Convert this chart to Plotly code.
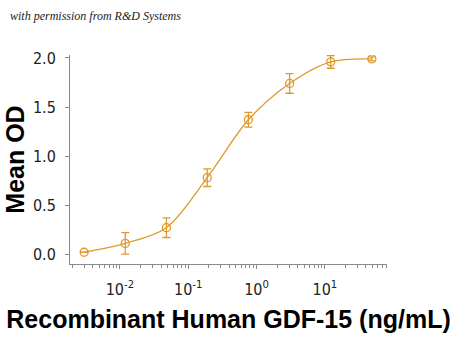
import plotly.graph_objects as go

conc = [0.003, 0.012, 0.048, 0.19, 0.76, 3.05, 12.2, 48.8]
mean_od = [0.02, 0.11, 0.27, 0.78, 1.37, 1.74, 1.96, 1.99]
err = [0.0, 0.11, 0.10, 0.09, 0.075, 0.10, 0.065, 0.02]

x_tickvals = [0.01, 0.1, 1, 10]
x_ticktext = ["10<sup>-2</sup>", "10<sup>-1</sup>", "10<sup>0</sup>", "10<sup>1</sup>"]
y_tickvals = [0, 0.5, 1.0, 1.5, 2.0]
y_ticktext = ["0.0", "0.5", "1.0", "1.5", "2.0"]

minor_vals = []
for dec in [0.001, 0.01, 0.1, 1, 10]:
    for m in range(2, 10):
        v = dec * m
        if 0.0019 <= v <= 80:
            minor_vals.append(v)

orange = "#E0992A"
axis_col = "#8a8a8a"
tick_font = dict(family="Liberation Sans Narrow, Arial Narrow, DejaVu Sans Condensed", size=16, color="#222")
title_font = dict(family="Liberation Sans, Arial", size=25, color="#000")

fig = go.Figure()
fig.add_trace(go.Scatter(
    x=conc, y=mean_od, mode="lines",
    line=dict(color=orange, width=1.3, shape="spline", smoothing=0.9),
    hoverinfo="skip", showlegend=False))
fig.add_trace(go.Scatter(
    x=conc, y=mean_od, mode="markers",
    marker=dict(symbol="circle-open", size=8, color=orange, line=dict(width=1.3, color=orange)),
    error_y=dict(type="data", array=err, visible=True, color=orange, thickness=1.3, width=4),
    showlegend=False))

fig.update_layout(
    width=450, height=341,
    margin=dict(l=70, r=63, t=55, b=73),
    paper_bgcolor="white", plot_bgcolor="white",
    xaxis=dict(
        type="log", range=[-2.73, 1.91],
        tickmode="array", tickvals=x_tickvals, ticktext=x_ticktext,
        ticks="outside", ticklen=4, tickwidth=1, tickcolor=axis_col,
        showline=True, linecolor=axis_col, linewidth=1,
        showgrid=False, zeroline=False,
        tickfont=tick_font, ticklabelstandoff=7,
        minor=dict(tickmode="array", tickvals=minor_vals, ticks="outside", ticklen=3,
                   tickwidth=1, tickcolor=axis_col, showgrid=False),
        title=dict(text="<b>Recombinant Human GDF-15 (ng/mL)</b>", font=title_font, standoff=12),
    ),
    yaxis=dict(
        range=[-0.1, 2.03],
        tickmode="array", tickvals=y_tickvals, ticktext=y_ticktext,
        ticks="outside", ticklen=4, tickwidth=1, tickcolor=axis_col,
        showline=True, linecolor=axis_col, linewidth=1,
        showgrid=False, zeroline=False,
        tickfont=tick_font, ticklabelstandoff=6,
        title=dict(text="<b>Mean OD</b>", font=title_font, standoff=1),
    ),
    annotations=[dict(
        text="<i>with permission from R&amp;D Systems</i>",
        xref="paper", yref="paper", x=0, y=1, xanchor="left", yanchor="bottom",
        xshift=-62, yshift=30, showarrow=False,
        font=dict(family="Liberation Serif, DejaVu Serif", size=12, color="#222"),
    )],
)

fig.write_html("out.html")
